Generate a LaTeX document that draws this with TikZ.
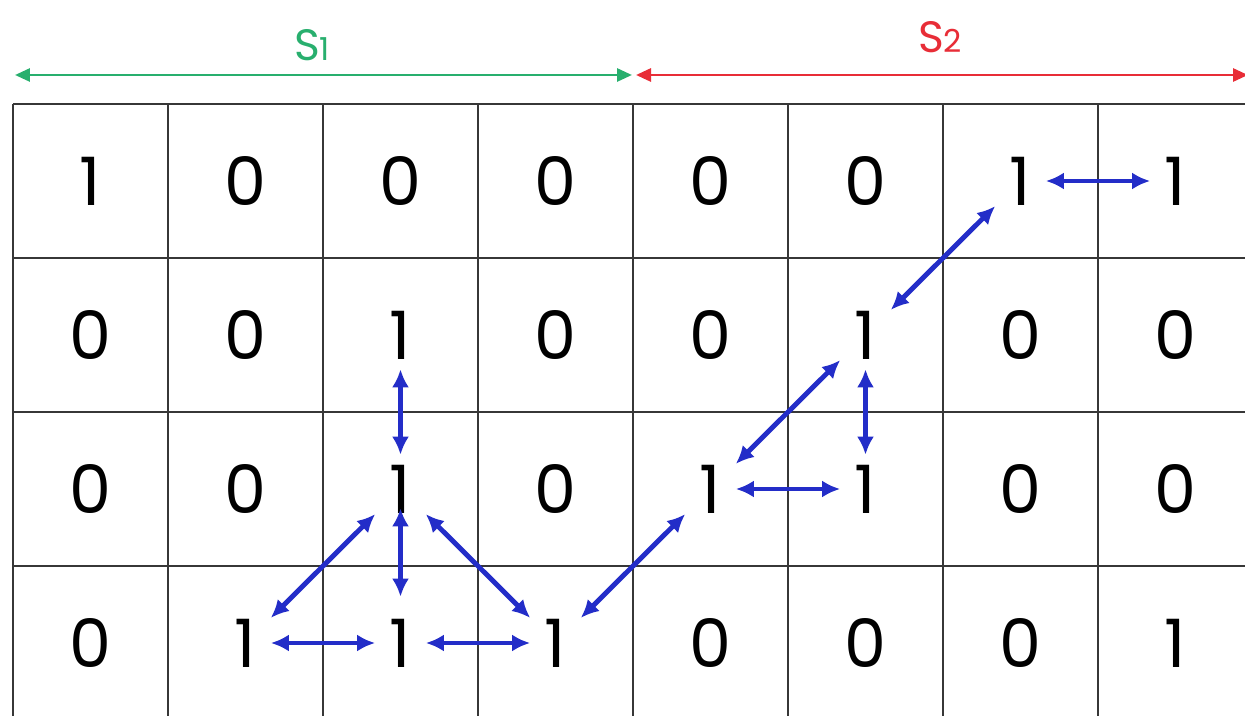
\documentclass[tikz,border=0pt]{standalone}
\usepackage{fontspec}
\usepackage{tikz}
\usetikzlibrary{arrows.meta, positioning}
\newfontfamily\gothfont{Poppins}
\definecolor{linkblue}{RGB}{35,45,200}
\definecolor{setgreen}{RGB}{40,175,110}
\definecolor{setred}{RGB}{232,45,55}
\definecolor{gridgray}{RGB}{55,55,55}
\newcommand{\setname}[1]{S{\fontsize{18}{20}\selectfont#1}}

\begin{document}
\begin{tikzpicture}[x=0.02cm, y=-0.02cm,
  cell/.style={rectangle, inner sep=0pt, minimum width=1cm, minimum height=1.36cm,
               font=\gothfont\fontsize{38}{40}\selectfont},
  gridrule/.style={draw=gridgray, line width=1.1pt},
  link/.style={{Latex[length=0.36cm, width=0.34cm]}-{Latex[length=0.36cm, width=0.34cm]},
               line width=2.8pt, draw=linkblue},
  spanarrow/.style={{Triangle[length=0.3cm, width=0.26cm]}-{Triangle[length=0.3cm, width=0.26cm]},
                    line width=1.6pt},
  setlabel/.style={inner sep=0pt, font=\gothfont\fontsize{25}{28}\selectfont}
]
\fill[white] (0,0) rectangle (1245,716);
\useasboundingbox (0,0) rectangle (1245,716);
\clip (0,0) rectangle (1245,716);

\foreach \i in {0,...,8}
  \draw[gridrule] ({13+155*\i},104) -- ({13+155*\i},730);
\foreach \j in {0,...,4}
  \draw[gridrule] (13,{104+154*\j}) -- (1260,{104+154*\j});

\foreach \row [count=\r from 0] in {{1,0,0,0,0,0,1,1},{0,0,1,0,0,1,0,0},{0,0,1,0,1,1,0,0},{0,1,1,1,0,0,0,1}}
  \foreach \v [count=\c from 0] in \row
    \node[cell] (n\r\c) at ({13+155*(\c+0.5)},{104+154*(\r+0.5)}) {\v};

\coordinate (s1west) at (15,75);
\coordinate (s1east) at (632,75);
\coordinate (s2west) at (636,75);
\coordinate (s2east) at (1248,75);
\node[setlabel, text=setgreen] (s1) at (312,45) {\setname{1}};
\node[setlabel, text=setred] (s2) at (940,37) {\setname{2}};
\draw[spanarrow, draw=setgreen, fill=setgreen] (s1west) -- (s1east);
\draw[spanarrow, draw=setred, fill=setred] (s2west) -- (s2east);

\draw[link] (n06) -- (n07);
\draw[link] (n06) -- (n15);
\draw[link] (n15) -- (n24);
\draw[link] (n15) -- (n25);
\draw[link] (n24) -- (n25);
\draw[link] (n24) -- (n33);
\draw[link] (n12) -- (n22);
\draw[link, shorten <=-0.3cm, shorten >=0.24cm] (n22) -- (n32);
\draw[link] (n22) -- (n31);
\draw[link] (n22) -- (n33);
\draw[link] (n31) -- (n32);
\draw[link] (n32) -- (n33);
\end{tikzpicture}
\end{document}
